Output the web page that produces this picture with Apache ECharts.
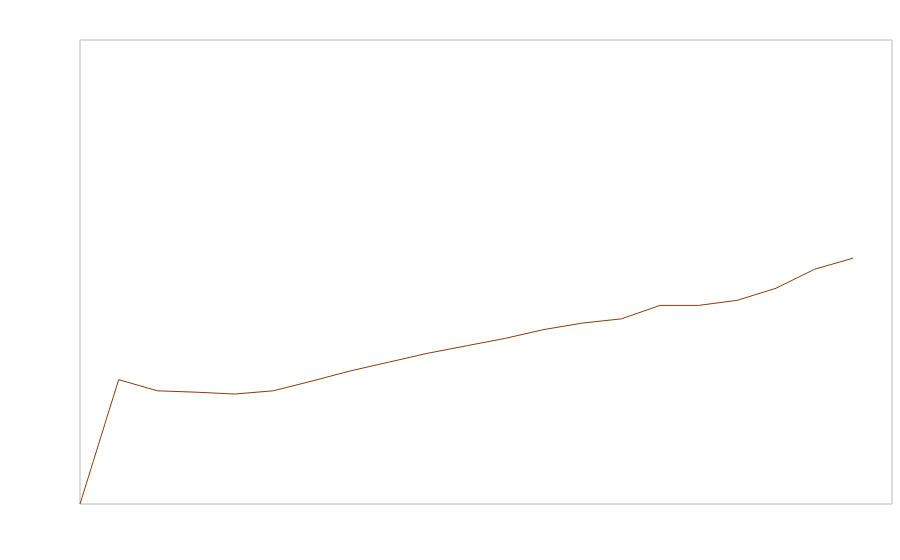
<!DOCTYPE html>
<html>
<head>
<meta charset="utf-8">
<script src="https://cdn.jsdelivr.net/npm/echarts@6/dist/echarts.min.js"></script>
<style>html,body{margin:0;padding:0;background:#fff;}#c{width:900px;height:560px;}</style>
</head>
<body>
<div id="c"></div>
<script>
var categories = ['1','2','3','4','5','6','7','8','9','10','11','12','13','14','15','16','17','18','19','20','21','22'];
var values = [0, 26.8, 24.4, 24.1, 23.7, 24.4, 26.5, 28.7, 30.6, 32.5, 34.1, 35.7, 37.6, 39.0, 39.9, 42.8, 42.8, 43.9, 46.5, 50.6, 53.0];
var yMin = 0, yMax = 100;

var chart = echarts.init(document.getElementById('c'), null, {renderer: 'canvas'});
chart.setOption({
  animation: false,
  backgroundColor: '#fff',
  grid: {left: 80, top: 40, right: 8, bottom: 56, show: true, borderColor: '#b8b8b8', borderWidth: 1, backgroundColor: 'transparent'},
  xAxis: {type: 'category', data: categories, boundaryGap: false,
    axisLine: {show: false}, axisTick: {show: false}, axisLabel: {show: false}, splitLine: {show: false}},
  yAxis: {type: 'value', min: yMin, max: yMax,
    axisLine: {show: false}, axisTick: {show: false}, axisLabel: {show: false}, splitLine: {show: false}},
  series: [{type: 'line', data: values, symbol: 'none', lineStyle: {color: '#8b3a0e', width: 1}}]
});
</script>
</body>
</html>
